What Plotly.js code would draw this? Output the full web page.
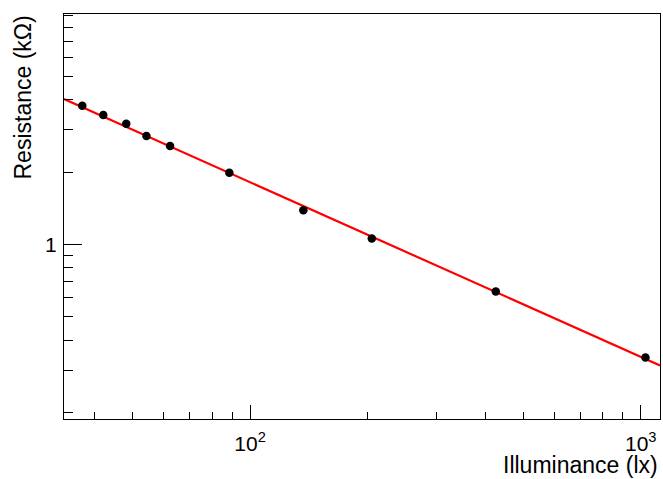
<!DOCTYPE html>
<html>
<head>
<meta charset="utf-8">
<script src="https://cdn.plot.ly/plotly-3.0.1.min.js"></script>
<style>html,body{margin:0;padding:0;background:#fff;}#chart{width:663px;height:479px;}</style>
</head>
<body>
<div id="chart"></div>
<script>
// Measured data points
const illuminance = [37.2, 42.1, 48.2, 54.3, 62.4, 88.5, 136.9, 204.9, 425.5, 1028];
const resistance = [3.78, 3.46, 3.18, 2.83, 2.57, 1.99, 1.39, 1.06, 0.638, 0.339];
// Fitted power-law line (endpoints)
const fitX = [33.4, 1120];
const fitY = [4.03, 0.314];
// Tick labels
const xTickVals = [100, 1000];
const xTickText = ['10<sup>2</sup>', '10<sup>3</sup>'];
const xMinorVals = [40, 50, 60, 70, 80, 90, 200, 300, 400, 500, 600, 700, 800, 900];
const yTickVals = [1];
const yTickText = ['1'];
const yMinorVals = [0.2, 0.3, 0.4, 0.5, 0.6, 0.7, 0.8, 0.9, 2, 3, 4, 5, 6, 7, 8, 9];

const font = {family: 'Liberation Sans, Arial, sans-serif', size: 21, color: '#000'};

const traces = [
  {x: fitX, y: fitY, mode: 'lines', line: {color: '#ff0000', width: 2.2}, hoverinfo: 'skip', showlegend: false},
  {x: illuminance, y: resistance, mode: 'markers', marker: {color: '#000', size: 8.5}, showlegend: false}
];

const layout = {
  width: 663, height: 479,
  margin: {l: 64, r: 3, t: 14, b: 60},
  paper_bgcolor: '#fff', plot_bgcolor: '#fff',
  font: font,
  showlegend: false,
  xaxis: {
    type: 'log', range: [Math.log10(33.4), Math.log10(1120)],
    showgrid: false, zeroline: false,
    showline: true, linecolor: '#000', linewidth: 1, mirror: true,
    ticks: 'inside', ticklen: 14, tickcolor: '#000', tickwidth: 1,
    tickmode: 'array', tickvals: xTickVals, ticktext: xTickText,
    tickfont: font, ticklabelstandoff: 6,
    minor: {tickmode: 'array', tickvals: xMinorVals, ticks: 'inside', ticklen: 7, tickcolor: '#000', tickwidth: 1, showgrid: false}
  },
  yaxis: {
    type: 'log', range: [Math.log10(0.188), Math.log10(9.1)],
    showgrid: false, zeroline: false,
    showline: true, linecolor: '#000', linewidth: 1, mirror: true,
    ticks: 'inside', ticklen: 18, tickcolor: '#000', tickwidth: 1,
    tickmode: 'array', tickvals: yTickVals, ticktext: yTickText,
    tickfont: font, ticklabelstandoff: 2,
    minor: {tickmode: 'array', tickvals: yMinorVals, ticks: 'inside', ticklen: 9, tickcolor: '#000', tickwidth: 1, showgrid: false}
  },
  annotations: [
    {text: 'Illuminance (lx)', xref: 'paper', yref: 'paper', x: 1.0, y: -0.114,
     xanchor: 'right', yanchor: 'middle', showarrow: false, font: {family: font.family, size: 23, color: '#000'}},
    {text: 'Resistance (kΩ)', xref: 'paper', yref: 'paper', x: -0.0696, y: 1.0,
     xanchor: 'center', yanchor: 'top', textangle: -90, showarrow: false, font: {family: font.family, size: 23, color: '#000'}}
  ]
};

Plotly.newPlot('chart', traces, layout, {staticPlot: true, displayModeBar: false});
</script>
</body>
</html>
